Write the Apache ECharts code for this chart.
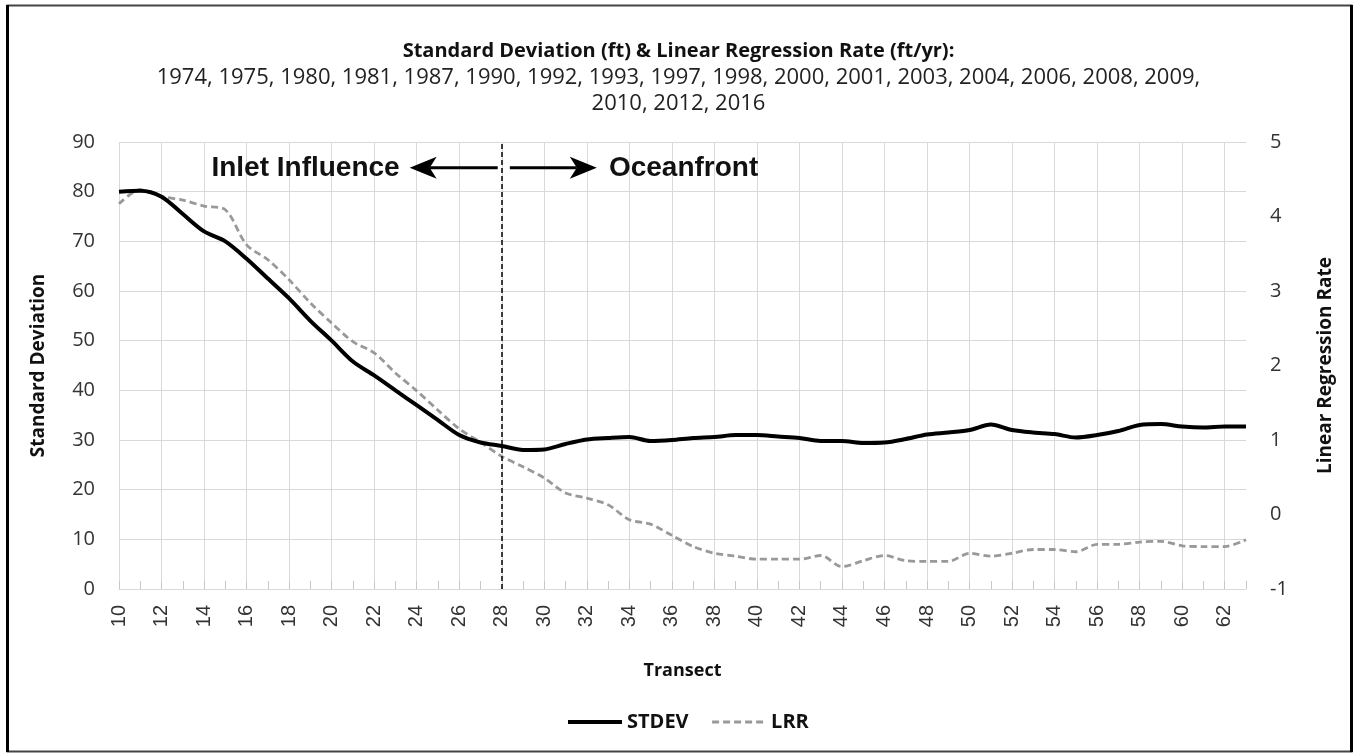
<!DOCTYPE html>
<html>
<head>
<meta charset="utf-8">
<script src="https://cdn.jsdelivr.net/npm/echarts@6/dist/echarts.min.js"></script>
<style>
  html, body { margin: 0; padding: 0; background: #fff; }
  #chart { width: 1357px; height: 753px; }
</style>
</head>
<body>
<div id="chart"></div>
<script>
// transect numbers along the shoreline
var transects = ['10', '11', '12', '13', '14', '15', '16', '17', '18', '19',
  '20', '21', '22', '23', '24', '25', '26', '27', '28', '29',
  '30', '31', '32', '33', '34', '35', '36', '37', '38', '39',
  '40', '41', '42', '43', '44', '45', '46', '47', '48', '49',
  '50', '51', '52', '53', '54', '55', '56', '57', '58', '59',
  '60', '61', '62', '63'];

// standard deviation (ft), left axis
var stdev = [80, 80.2, 79, 75.5, 72, 70, 66.5, 62.5, 58.5, 54,
  50, 45.8, 43, 40, 37, 34, 31, 29.5, 28.8, 28,
  28.1, 29.2, 30.1, 30.4, 30.6, 29.8, 30, 30.4, 30.6, 31,
  31, 30.7, 30.4, 29.8, 29.8, 29.4, 29.5, 30.2, 31.1, 31.5,
  32, 33.1, 32, 31.5, 31.2, 30.5, 31, 31.8, 33, 33.2,
  32.7, 32.5, 32.7, 32.7];

// linear regression rate (ft/yr), right axis
var lrr = [4.17, 4.36, 4.27, 4.22, 4.14, 4.09, 3.62, 3.42, 3.15, 2.84,
  2.57, 2.32, 2.17, 1.9, 1.66, 1.4, 1.15, 0.97, 0.78, 0.64,
  0.49, 0.29, 0.22, 0.13, -0.07, -0.13, -0.28, -0.43, -0.52, -0.56,
  -0.6, -0.6, -0.6, -0.55, -0.7, -0.62, -0.55, -0.62, -0.63, -0.63,
  -0.52, -0.56, -0.52, -0.47, -0.47, -0.5, -0.4, -0.4, -0.37, -0.36,
  -0.42, -0.43, -0.43, -0.34];

var surveyYears = '1974, 1975, 1980, 1981, 1987, 1990, 1992, 1993, 1997, 1998, 2000, 2001, 2003, 2004, 2006, 2008, 2009,\n2010, 2012, 2016';

var gridCol = '#d9d9d9';
var labelFont = 'Open Sans';

var chart = echarts.init(document.getElementById('chart'));

chart.setOption({
  animation: false,
  title: {
    text: 'Standard Deviation (ft) & Linear Regression Rate (ft/yr):',
    subtext: surveyYears,
    left: 'center',
    top: 35,
    itemGap: 3,
    textStyle: { fontFamily: labelFont, fontWeight: 'bold', fontSize: 20, color: '#111', lineHeight: 22 },
    subtextStyle: { fontFamily: labelFont, fontSize: 22, color: '#222', lineHeight: 26 }
  },
  legend: {
    left: 561,
    top: 707,
    itemWidth: 54,
    itemHeight: 14,
    itemGap: 22,
    itemStyle: { opacity: 0 },
    textStyle: { fontFamily: labelFont, fontWeight: 'bold', fontSize: 20, color: '#111' },
    data: [
      { name: 'STDEV', lineStyle: { width: 4 } },
      { name: 'LRR', lineStyle: { width: 3 } }
    ]
  },
  grid: { left: 119, right: 111, top: 142, bottom: 164 },
  xAxis: {
    type: 'category',
    data: transects,
    boundaryGap: false,
    name: 'Transect',
    nameLocation: 'middle',
    nameGap: 73,
    nameTextStyle: { fontFamily: labelFont, fontWeight: 'bold', fontSize: 18, color: '#111' },
    axisLine: { lineStyle: { color: gridCol } },
    axisTick: { interval: 0, inside: true, length: 8, lineStyle: { color: '#c8c8c8' } },
    axisLabel: { interval: 1, rotate: 90, margin: 16, fontFamily: 'Liberation Sans', fontSize: 20, color: '#333' },
    splitLine: { show: true, interval: 1, lineStyle: { color: gridCol } }
  },
  yAxis: [{
    type: 'value',
    min: 0,
    max: 90,
    interval: 10,
    name: 'Standard Deviation',
    nameLocation: 'middle',
    nameRotate: 90,
    nameGap: 71,
    nameTextStyle: { fontFamily: labelFont, fontWeight: 'bold', fontSize: 19, color: '#111' },
    axisLine: { show: false },
    axisTick: { show: false },
    axisLabel: { margin: 24, fontFamily: labelFont, fontSize: 20, color: '#333' },
    splitLine: { lineStyle: { color: gridCol } }
  }, {
    type: 'value',
    min: -1,
    max: 5,
    interval: 1,
    name: 'Linear Regression Rate',
    nameLocation: 'middle',
    nameRotate: 90,
    nameGap: 70,
    nameTextStyle: { fontFamily: labelFont, fontWeight: 'bold', fontSize: 19, color: '#111' },
    axisLine: { show: false },
    axisTick: { show: false },
    axisLabel: { margin: 24, fontFamily: labelFont, fontSize: 20, color: '#333' },
    splitLine: { show: false }
  }],
  series: [{
    name: 'STDEV',
    type: 'line',
    yAxisIndex: 0,
    data: stdev,
    smooth: 0.3,
    symbol: 'none',
    z: 3,
    lineStyle: { color: '#000', width: 4 },
    itemStyle: { color: '#000' },
    markLine: {
      silent: true,
      symbol: 'none',
      label: { show: false },
      lineStyle: { color: '#000', width: 1.5, type: [5, 3] },
      data: [{ xAxis: '28' }]
    }
  }, {
    name: 'LRR',
    type: 'line',
    yAxisIndex: 1,
    data: lrr,
    smooth: 0.3,
    symbol: 'none',
    z: 2,
    lineStyle: { color: '#999', width: 2.8, type: [7, 4] },
    itemStyle: { color: '#999' }
  }]
});

// annotation arrows and labels, placed in transect units
var x0 = chart.convertToPixel({ xAxisIndex: 0 }, '10');
var x1 = chart.convertToPixel({ xAxisIndex: 0 }, '63');
function px(t) { return x0 + (t - 10) / 53 * (x1 - x0); }
var ay = chart.convertToPixel({ yAxisIndex: 0 }, 84.8);

function arrow(fromT, tipT) {
  var from = px(fromT), tip = px(tipT);
  var dir = tip < from ? 1 : -1;
  return [{
    type: 'line',
    shape: { x1: from, y1: ay, x2: tip + dir * 20, y2: ay },
    style: { stroke: '#000', lineWidth: 3 }
  }, {
    type: 'polygon',
    shape: { points: [[tip, ay], [tip + dir * 27, ay - 11], [tip + dir * 20, ay], [tip + dir * 27, ay + 11]] },
    style: { fill: '#000' }
  }];
}

var annot = [].concat(
  arrow(27.81, 23.67),
  arrow(28.38, 32.47),
  [{
    type: 'text', x: px(23.2), y: ay,
    style: { text: 'Inlet Influence', font: 'bold 28px "Liberation Sans"', fill: '#111', align: 'right', verticalAlign: 'middle' }
  }, {
    type: 'text', x: px(33.04), y: ay,
    style: { text: 'Oceanfront', font: 'bold 28px "Liberation Sans"', fill: '#111', align: 'left', verticalAlign: 'middle' }
  },
  // outer frame
  { type: 'rect', shape: { x: 7.5, y: 5.5, width: 1344, height: 746 }, style: { fill: null, stroke: '#444', lineWidth: 2 } },
  { type: 'line', shape: { x1: 7.5, y1: 5, x2: 7.5, y2: 752 }, style: { stroke: '#000', lineWidth: 3 } },
  { type: 'line', shape: { x1: 1351.5, y1: 5, x2: 1351.5, y2: 752 }, style: { stroke: '#000', lineWidth: 3 } }]
);

chart.setOption({ graphic: annot });
</script>
</body>
</html>
